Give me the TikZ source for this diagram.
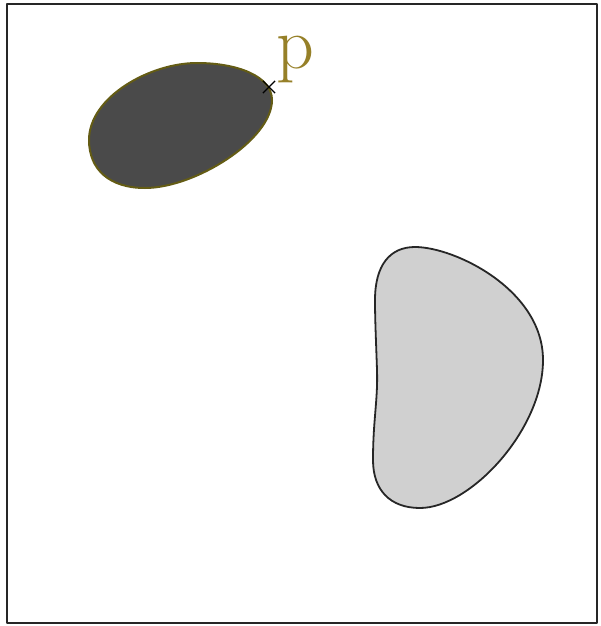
\documentclass[tikz,border=0pt]{standalone}
\usepackage{tikz}
\usetikzlibrary{shapes.misc}
\definecolor{olivedark}{RGB}{100,92,20}
\definecolor{olivelabel}{RGB}{150,128,40}
\definecolor{blobdark}{RGB}{74,74,74}
\definecolor{blobgray}{RGB}{208,208,208}

\begin{document}
\begin{tikzpicture}[x=1pt,y=-1pt,line join=round]
  \useasboundingbox (0,0) rectangle (600,626);
  % frame
  \draw[line width=2.5pt,black!85] (7,4) rectangle (597,623);
  % dark set
  \draw[fill=blobdark,draw=olivedark,line width=2pt]
    (89,140) .. controls (89,97) and (150,63) .. (197,63)
    .. controls (237,63) and (272,76) .. (272,100)
    .. controls (272,140) and (195,188) .. (145,188)
    .. controls (110,188) and (89,170) .. (89,140) -- cycle;
  % gray set
  \draw[fill=blobgray,draw=black!85,line width=1.8pt]
    (375,300) .. controls (375,265) and (390,247) .. (415,247)
    .. controls (455,247) and (543,290) .. (543,360)
    .. controls (543,430) and (470,508) .. (420,508)
    .. controls (390,508) and (373,490) .. (373,460)
    .. controls (373,420) and (378,400) .. (377,370)
    .. controls (376,340) and (375,320) .. (375,300) -- cycle;
  % point p
  \node[cross out,draw=black,line width=1.2pt,minimum size=11pt,inner sep=0pt] (p) at (269,87) {};
  \node[anchor=base west,inner sep=0pt,text=olivelabel,font=\fontsize{74}{80}\selectfont] (plabel) at (276,68) {p};
\end{tikzpicture}
\end{document}
